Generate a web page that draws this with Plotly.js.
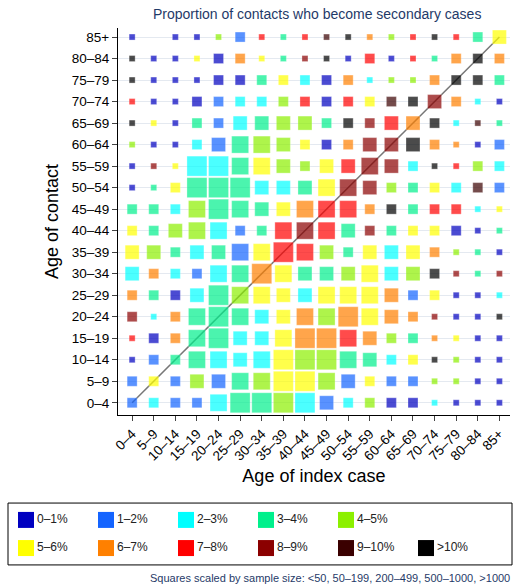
<!DOCTYPE html>
<html>
<head>
<meta charset="utf-8">
<script src="https://cdn.plot.ly/plotly-3.0.1.min.js"></script>
<style>body{margin:0;background:#fff}</style>
</head>
<body>
<div id="chart" style="width:520px;height:586px"></div>
<script>
var ageGroups = ['0–4','5–9','10–14','15–19','20–24','25–29','30–34','35–39','40–44','45–49',
                 '50–54','55–59','60–64','65–69','70–74','75–79','80–84','85+'];
var rateLabels = ['0–1%','1–2%','2–3%','3–4%','4–5%','5–6%','6–7%','7–8%','8–9%','9–10%','>10%'];
var rateColors = ['#0000c0','#1464ff','#00ffff','#00f08c','#8cf000','#ffff00','#ff8000','#ff0000','#8b0000','#3a0000','#000000'];
var sizePx = [0, 6, 10, 14, 17, 20];

// rate category per cell, rows from 0-4 (index 0) up to 85+ (index 17), columns = age of index case
var rateCat = [
  [1,2,1,1,2,3,3,4, 2,1,2,4,0,0,2,0,0,0],
  [1,5,1,4,1,3,4,5, 5,4,1,5,1,1,4,4,0,0],
  [0,1,3,3,2,2,2,5, 4,4,3,3,2,5,10,4,0,0],
  [7,0,6,3,3,2,2,5, 6,6,7,6,4,3,6,5,0,0],
  [8,2,6,3,3,3,2,5, 6,4,6,5,6,6,8,0,0,10],
  [6,3,0,2,3,4,5,5, 2,5,5,5,6,1,5,0,0,2],
  [2,6,2,1,2,3,6,5, 3,3,4,5,2,4,10,8,3,8],
  [5,4,3,2,3,1,5,7, 7,4,3,5,2,5,6,4,3,0],
  [5,3,4,4,2,1,3,7, 8,7,3,8,3,5,5,0,0,3],
  [3,3,2,4,3,3,3,5, 6,7,7,6,10,3,7,7,2,5],
  [0,3,5,3,3,3,2,2, 3,5,8,8,4,3,5,2,9,1],
  [0,8,5,2,2,3,5,4, 4,5,7,8,8,2,10,7,4,2],
  [4,0,0,2,1,3,4,4, 5,0,6,8,8,10,6,6,0,1],
  [10,5,0,3,1,2,3,4, 4,3,10,8,7,6,10,2,9,3],
  [7,0,0,0,1,2,2,4, 7,0,7,5,9,10,8,6,2,0],
  [10,0,0,0,0,0,3,5, 2,0,6,2,4,4,6,10,10,3],
  [10,0,0,5,0,6,5,3, 8,10,0,7,0,7,3,6,10,6],
  [0,null,0,0,4,1,7,3, 7,9,10,6,4,7,10,7,3,5]
];
// sample size class (1: <50 ... 5: >1000)
var sizeCat = [
  [2,2,2,2,4,5,5,5, 5,3,2,2,2,2,1,1,1,1],
  [2,2,2,3,3,4,4,5, 5,4,3,2,2,2,1,1,1,1],
  [1,2,2,4,4,3,4,5, 5,5,4,3,2,2,1,1,1,1],
  [1,2,2,4,5,3,3,4, 5,5,4,3,2,2,1,1,1,1],
  [2,1,2,4,5,4,3,3, 4,4,5,4,3,2,1,1,1,1],
  [2,2,2,3,5,4,4,3, 3,4,4,4,3,2,2,1,1,1],
  [3,2,2,2,4,4,5,4, 3,3,3,4,3,3,2,1,1,1],
  [3,3,2,3,3,4,4,5, 4,3,2,3,3,3,2,1,1,1],
  [2,2,3,4,4,2,2,4, 4,4,3,2,2,2,2,2,1,1],
  [2,2,2,4,5,4,3,3, 4,4,4,2,2,2,2,2,1,1],
  [1,1,2,5,5,5,3,3, 3,4,4,3,2,2,2,2,2,2],
  [1,1,1,5,5,4,4,3, 2,3,3,4,3,2,1,1,2,2],
  [1,1,1,2,3,4,4,3, 2,2,2,3,3,3,2,1,1,2],
  [1,1,1,2,2,3,3,3, 3,2,2,2,3,3,2,1,1,1],
  [1,1,1,2,2,2,2,2, 2,2,2,2,2,2,3,2,1,1],
  [1,1,1,1,2,2,2,2, 2,2,2,1,1,1,2,2,2,2],
  [1,1,1,1,2,2,1,1, 1,1,1,2,1,1,1,2,2,2],
  [1,null,1,1,1,2,1,1, 1,1,1,1,1,1,1,1,2,3]
];

var xs = [], ys = [], cols = [], sizes = [], texts = [];
for (var r = 0; r < ageGroups.length; r++) {
    for (var c = 0; c < ageGroups.length; c++) {
        var k = rateCat[r][c];
        if (k === null) continue;
        xs.push(c);
        ys.push(r);
        cols.push(rateColors[k]);
        sizes.push(sizePx[sizeCat[r][c]]);
        texts.push(rateLabels[k]);
    }
}

var idx = ageGroups.map(function (_, i) { return i; });

var diagonal = {
    x: [0, ageGroups.length - 1], y: [0, ageGroups.length - 1],
    mode: 'lines', line: { color: '#777', width: 1.5 },
    hoverinfo: 'skip', showlegend: false
};

var cells = {
    x: xs, y: ys, text: texts, mode: 'markers', type: 'scatter',
    marker: { symbol: 'square', size: sizes, color: cols, line: { color: 'rgba(255,255,255,0.6)', width: 0.5 } },
    showlegend: false
};

// legend: 5 on the first row, 6 on the second
var legX = rateLabels.map(function (_, i) { return 18 + 80 * (i < 5 ? i : i - 5); });
var legY = rateLabels.map(function (_, i) { return i < 5 ? 1 : 0; });
var legend = {
    x: legX, y: legY, text: rateLabels, xaxis: 'x2', yaxis: 'y2',
    mode: 'markers+text', textposition: 'middle right',
    textfont: { size: 12, color: '#222' },
    marker: { symbol: 'square', size: 16, color: rateColors },
    hoverinfo: 'skip', showlegend: false, cliponaxis: false
};

var fontFam = '"Liberation Sans", Arial, sans-serif';

var layout = {
    width: 520, height: 586,
    margin: { t: 28, r: 8, b: 20, l: 8 },
    paper_bgcolor: '#fff', plot_bgcolor: '#fff',
    font: { family: fontFam, color: '#000' },
    title: { text: 'Proportion of contacts who become secondary cases', x: 0.61, xanchor: 'center', y: 0.985,
             font: { size: 14, color: '#1f3a68' } },
    xaxis: {
        domain: [0.218, 0.996], range: [-0.66, 17.49],
        tickvals: idx, ticktext: ageGroups, tickangle: -45,
        tickfont: { size: 13.5 }, ticks: 'outside', ticklen: 5,
        showline: true, linecolor: '#000', linewidth: 1, showgrid: false, zeroline: false,
        title: { text: 'Age of index case', font: { size: 18 }, standoff: 6 }
    },
    yaxis: {
        domain: [0.281, 1], range: [-0.56, 17.42],
        tickvals: idx, ticktext: ageGroups,
        tickfont: { size: 13.5 }, ticks: 'outside', ticklen: 5,
        showline: true, linecolor: '#000', linewidth: 1,
        showgrid: true, gridcolor: '#e4e9f0', gridwidth: 1, zeroline: false,
        title: { text: 'Age of contact', font: { size: 18 }, standoff: 8 }
    },
    xaxis2: { domain: [0, 1], range: [0, 504], visible: false, fixedrange: true },
    yaxis2: { domain: [0.002, 0.117], range: [-0.6, 1.6], visible: false, fixedrange: true, anchor: 'x2' },
    shapes: [{ type: 'rect', xref: 'x2 domain', yref: 'y2 domain', x0: 0, x1: 1, y0: 0, y1: 1,
               line: { color: '#000', width: 1 } }],
    annotations: [{
        text: 'Squares scaled by sample size: <50, 50–199, 200–499, 500–1000, >1000',
        xref: 'paper', yref: 'paper', x: 1, y: -0.022, xanchor: 'right', yanchor: 'middle',
        showarrow: false, font: { size: 11, color: '#1f3a68' }
    }],
    showlegend: false
};

Plotly.newPlot('chart', [diagonal, cells, legend], layout, { displayModeBar: false, staticPlot: true });
</script>
</body>
</html>
